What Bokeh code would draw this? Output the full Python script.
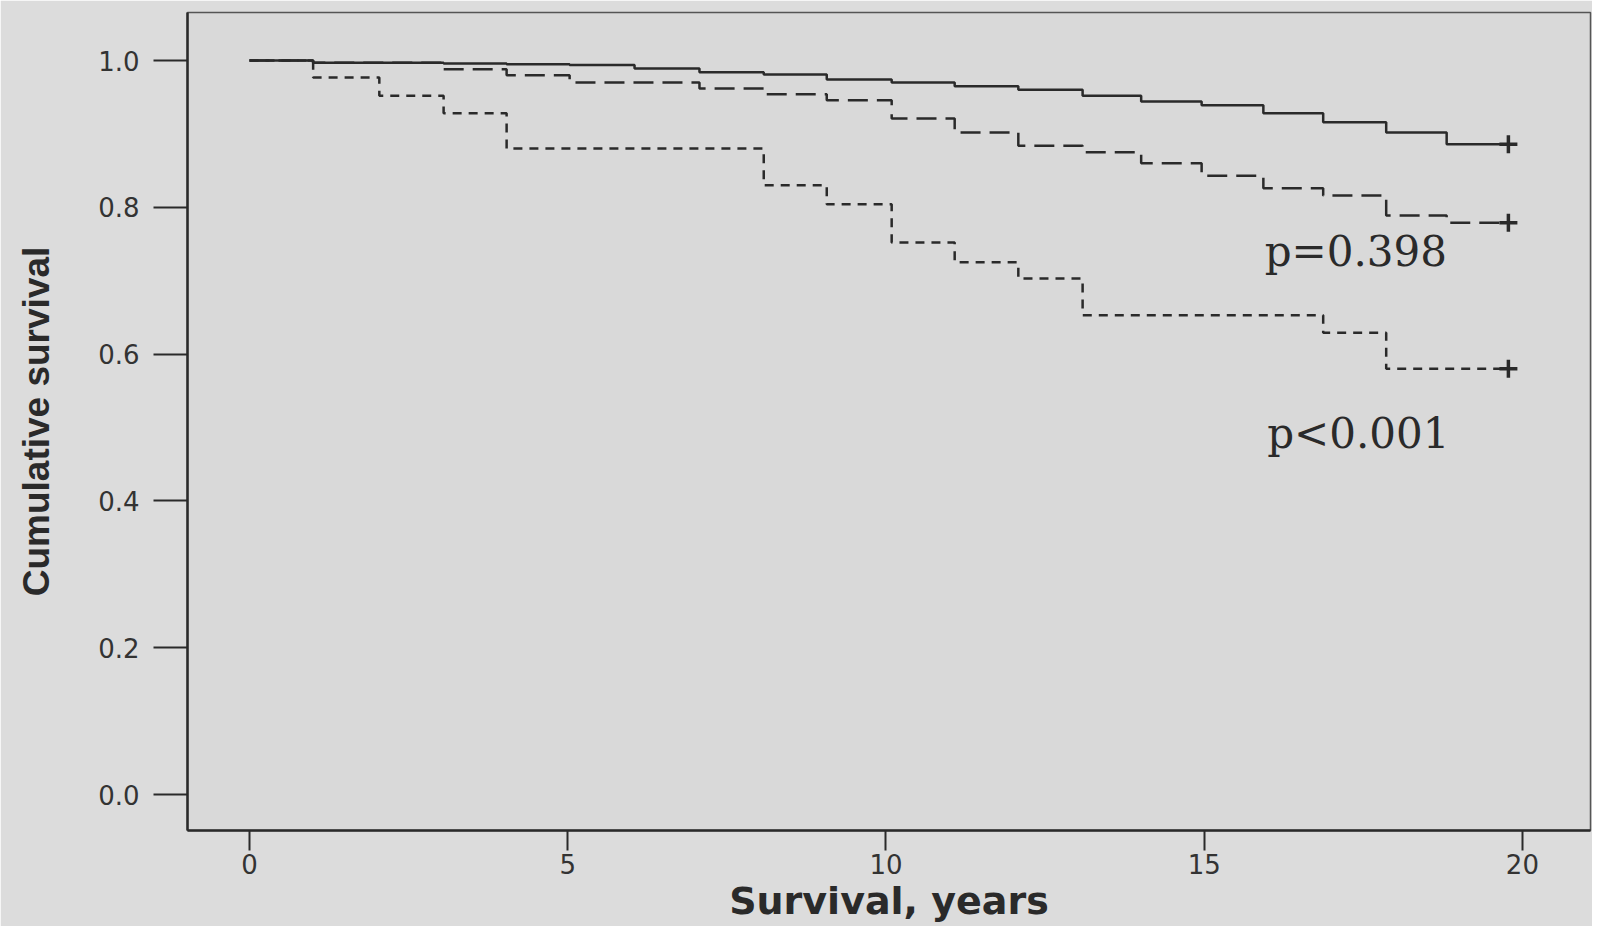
from bokeh.plotting import figure
from bokeh.models import Range1d, FixedTicker, PrintfTickFormatter, Label
from bokeh.embed import file_html
from bokeh.resources import INLINE

# ---- data ----
solid_t = [0, 1.0, 3.05, 4.04, 5.03, 6.05, 7.07, 8.08, 9.07, 10.09, 11.08, 12.08,
           13.09, 14.01, 14.96, 15.93, 16.87, 17.86, 18.81, 19.78]
solid_s = [1.000, 0.997, 0.996, 0.995, 0.994, 0.989, 0.984, 0.981, 0.974, 0.970, 0.965,
           0.960, 0.952, 0.944, 0.939, 0.928, 0.916, 0.902, 0.886, 0.886]

mid_t = [0, 1.0, 3.05, 4.04, 5.03, 7.07, 8.08, 9.07, 10.09, 11.08, 12.08, 13.09,
         14.01, 14.96, 15.93, 16.87, 17.86, 18.81, 19.78]
mid_s = [1.000, 0.997, 0.988, 0.980, 0.970, 0.962, 0.954, 0.946, 0.921, 0.902, 0.884,
         0.875, 0.860, 0.843, 0.826, 0.816, 0.789, 0.779, 0.779]

short_t = [0, 1.0, 2.04, 3.05, 4.04, 8.08, 9.07, 10.09, 11.08, 12.08, 13.09, 16.87,
           17.86, 19.78]
short_s = [1.000, 0.977, 0.952, 0.928, 0.880, 0.830, 0.804, 0.752, 0.725, 0.703, 0.653,
           0.629, 0.580, 0.580]

y_ticks = [0.0, 0.2, 0.4, 0.6, 0.8, 1.0]
x_ticks = [0, 5, 10, 15, 20]
p_texts = ["p=0.398", "p<0.001"]
p_pos_x = [15.95, 15.99]
p_pos_y = [0.740, 0.492]

BG = "#dcdcdc"
INK = "#2a2a2a"

p = figure(width=1592, height=926, output_backend="svg", toolbar_location=None,
           x_range=Range1d(-0.974, 21.07), y_range=Range1d(-0.049, 1.0654),
           min_border_left=187, min_border_right=2, min_border_top=12,
           min_border_bottom=96)
p.background_fill_color = "#d9d9d9"
p.border_fill_color = BG
p.outline_line_color = "#555555"
p.outline_line_width = 1.5
p.xgrid.visible = False
p.ygrid.visible = False

p.step(solid_t, solid_s, mode="after", line_color=INK, line_width=2.5)
p.step(mid_t, mid_s, mode="after", line_color=INK, line_width=2.5, line_dash="20 9")
p.step(short_t, short_s, mode="after", line_color=INK, line_width=2.5, line_dash="9 7")

end_x = [solid_t[-1], mid_t[-1], short_t[-1]]
end_y = [solid_s[-1], mid_s[-1], short_s[-1]]
p.scatter(end_x, end_y, marker="cross", size=18, line_color=INK, line_width=3.5)

for txt, tx, ty in zip(p_texts, p_pos_x, p_pos_y):
    p.add_layout(Label(x=tx, y=ty, text=txt, text_font="DejaVu Serif",
                       text_font_size="42px", text_color=INK,
                       text_baseline="alphabetic", text_align="left"))

# y axis
ya = p.yaxis[0]
ya.ticker = FixedTicker(ticks=y_ticks)
ya.formatter = PrintfTickFormatter(format="%.1f")
ya.axis_line_color = INK
ya.axis_line_width = 2.5
ya.major_tick_line_color = INK
ya.major_tick_line_width = 2
ya.major_tick_out = 34
ya.major_tick_in = 0
ya.minor_tick_out = 0
ya.minor_tick_in = 0
ya.major_label_standoff = 14
ya.major_label_text_font = "DejaVu Sans"
ya.major_label_text_font_size = "26px"
ya.major_label_text_color = "#333333"
ya.axis_label = "Cumulative survival"
ya.axis_label_text_font = "Liberation Sans"
ya.axis_label_text_font_style = "bold"
ya.axis_label_text_font_size = "37px"
ya.axis_label_text_color = INK
ya.axis_label_standoff = 38

# x axis
xa = p.xaxis[0]
xa.ticker = FixedTicker(ticks=x_ticks)
xa.axis_line_color = INK
xa.axis_line_width = 2.5
xa.major_tick_line_color = INK
xa.major_tick_line_width = 2
xa.major_tick_out = 20
xa.major_tick_in = 0
xa.minor_tick_out = 0
xa.minor_tick_in = 0
xa.major_label_standoff = 3
xa.major_label_text_font = "DejaVu Sans"
xa.major_label_text_font_size = "26px"
xa.major_label_text_color = "#333333"
xa.axis_label = "Survival, years"
xa.axis_label_text_font = "DejaVu Sans"
xa.axis_label_text_font_style = "bold"
xa.axis_label_text_font_size = "38px"
xa.axis_label_text_color = INK
xa.axis_label_standoff = 2

open("out.html", "w").write(file_html(p, INLINE))
